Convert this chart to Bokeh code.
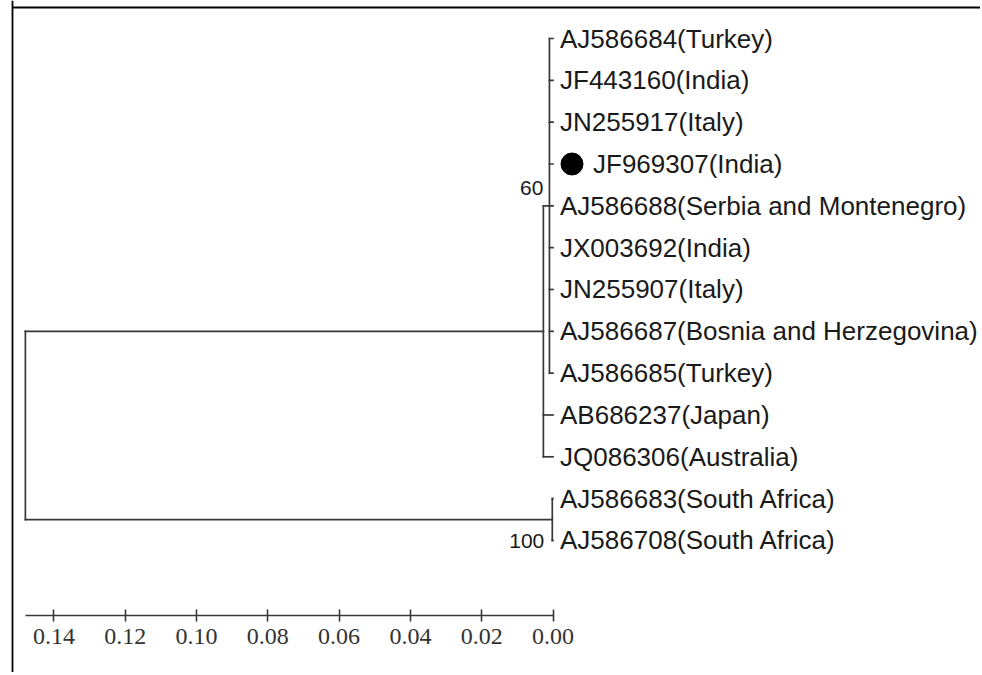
from bokeh.plotting import figure
from bokeh.models import (Range1d, LinearAxis, FixedTicker, PrintfTickFormatter,
                          Span, ColumnDataSource)
from bokeh.core.properties import value
from bokeh.embed import file_html
from bokeh.resources import INLINE

# ---------------- data ----------------
leaf_names = [
    "AJ586684(Turkey)",
    "JF443160(India)",
    "JN255917(Italy)",
    "JF969307(India)",
    "AJ586688(Serbia and Montenegro)",
    "JX003692(India)",
    "JN255907(Italy)",
    "AJ586687(Bosnia and Herzegovina)",
    "AJ586685(Turkey)",
    "AB686237(Japan)",
    "JQ086306(Australia)",
    "AJ586683(South Africa)",
    "AJ586708(South Africa)",
]
highlighted = ["JF969307(India)"]

node_order = ["n60", "nmain", "nsa", "root"]
node_children = {
    "n60": leaf_names[0:9],
    "nmain": ["n60", "AB686237(Japan)", "JQ086306(Australia)"],
    "nsa": ["AJ586683(South Africa)", "AJ586708(South Africa)"],
    "root": ["nmain", "nsa"],
}
node_heights = {"n60": 0.0010, "nmain": 0.0027, "nsa": 0.0002, "root": 0.148}
node_support = {"n60": "60", "nsa": "100"}

scale_ticks = [0.14, 0.12, 0.10, 0.08, 0.06, 0.04, 0.02, 0.00]

# ---------------- layout constants ----------------
W, H = 980, 672
PX_PER_UNIT = 3565.0   # pixels per unit of distance
X0_PX = 552.5          # screen x of distance 0
ROW0_PX = 38.0         # screen y of first leaf
ROW_PX = 41.83         # pixels between leaves
AXIS_PX = 615.0        # screen y of scale bar
BORDER_X, BORDER_Y = 12.0, 7.0

x_left = X0_PX / PX_PER_UNIT
x_right = -(W - X0_PX) / PX_PER_UNIT
y_top = -ROW0_PX / ROW_PX
y_bot = (H - ROW0_PX) / ROW_PX

LINE = "#383838"

p = figure(width=W, height=H, output_backend="svg", toolbar_location=None,
           x_range=Range1d(x_left, x_right), y_range=Range1d(y_bot, y_top),
           x_axis_type=None, y_axis_type=None, min_border=0,
           outline_line_color=None, title=None)
p.background_fill_color = "white"
p.border_fill_color = "white"

# ---------------- tree geometry ----------------
ypos = {n: float(i) for i, n in enumerate(leaf_names)}
xpos = {n: 0.0 for n in leaf_names}
x0s, y0s, x1s, y1s = [], [], [], []
for n in node_order:
    ys = [ypos[c] for c in node_children[n]]
    ypos[n] = (min(ys) + max(ys)) / 2.0
    xpos[n] = node_heights[n]
    x0s.append(xpos[n]); x1s.append(xpos[n]); y0s.append(min(ys)); y1s.append(max(ys))
    for c in node_children[n]:
        x0s.append(xpos[n]); x1s.append(xpos[c]); y0s.append(ypos[c]); y1s.append(ypos[c])

p.segment(x0=x0s, y0=y0s, x1=x1s, y1=y1s, line_color=LINE, line_width=1.7,
          line_cap="square")

# ---------------- leaf labels ----------------
lab_x = [xpos[n] for n in leaf_names]
lab_y = [ypos[n] for n in leaf_names]
lab_off = [40 if n in highlighted else 7 for n in leaf_names]
src = ColumnDataSource(dict(x=lab_x, y=lab_y, t=leaf_names, xo=lab_off))
p.text(x="x", y="y", text="t", x_offset="xo", source=src,
       text_font=value("Liberation Sans"), text_font_size="26px",
       text_color="#1a1a1a", text_baseline="middle", text_align="left")

# highlighted marker
hx = [xpos[n] - 19.0 / PX_PER_UNIT for n in highlighted]
hy = [ypos[n] for n in highlighted]
p.scatter(x=hx, y=hy, size=22, marker="circle", fill_color="black", line_color="black")

# ---------------- bootstrap values ----------------
sup_nodes = list(node_support.keys())
sup_off_x = {"n60": -6, "nsa": -8}
sup_off_y = {"n60": -18, "nsa": 21}
ssrc = ColumnDataSource(dict(
    x=[xpos[n] for n in sup_nodes], y=[ypos[n] for n in sup_nodes],
    t=[node_support[n] for n in sup_nodes],
    xo=[sup_off_x[n] for n in sup_nodes], yo=[sup_off_y[n] for n in sup_nodes]))
p.text(x="x", y="y", text="t", x_offset="xo", y_offset="yo", source=ssrc,
       text_font=value("Liberation Sans"), text_font_size="21px",
       text_color="#1a1a1a", text_baseline="middle", text_align="right")

# ---------------- scale bar ----------------
ax = LinearAxis(fixed_location=(AXIS_PX - ROW0_PX) / ROW_PX,
                ticker=FixedTicker(ticks=scale_ticks),
                formatter=PrintfTickFormatter(format="%.2f"),
                bounds=(0.0, node_heights["root"]))
ax.axis_line_color = LINE
ax.axis_line_width = 1.7
ax.major_tick_line_color = LINE
ax.major_tick_line_width = 1.6
ax.major_tick_in = 6
ax.major_tick_out = 6
ax.minor_tick_line_color = None
ax.major_label_text_font = "Liberation Serif"
ax.major_label_text_font_size = "24px"
ax.major_label_text_color = "#333333"
ax.major_label_standoff = 7
p.add_layout(ax, "below")

# ---------------- frame border (top and left) ----------------
p.add_layout(Span(location=BORDER_X, location_units="screen", dimension="height",
                  line_color="black", line_width=1.8))
bx = (X0_PX - BORDER_X) / PX_PER_UNIT
by = (BORDER_Y - ROW0_PX) / ROW_PX
p.segment(x0=[bx], y0=[by], x1=[x_right - 1.0], y1=[by],
          line_color="black", line_width=1.8)

open("out.html", "w").write(file_html(p, INLINE))
